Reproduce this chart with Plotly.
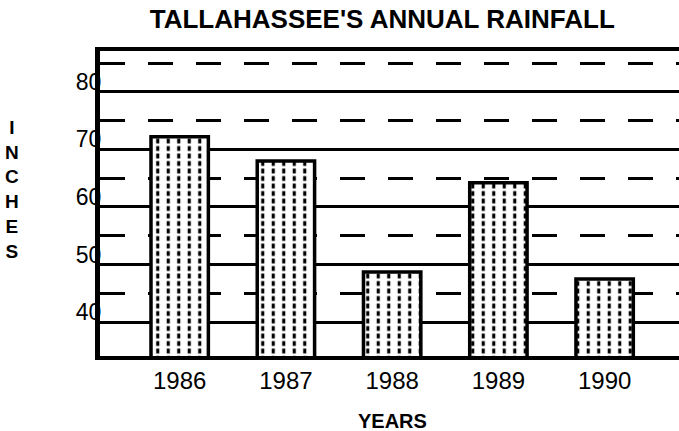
import plotly.graph_objects as go

# Annual rainfall totals (inches)
years = ["1986", "1987", "1988", "1989", "1990"]
rainfall = [72.2, 68.0, 48.7, 64.2, 47.5]

# Axis labelling: solid rules every 10 in, dashed rules halfway between
y_ticks = [40, 50, 60, 70, 80]
y_tick_text = ["40", "50", "60", "70", "80"]
y_half_ticks = [45, 55, 65, 75, 85]

FONT = "Liberation Sans, Arial, Helvetica, sans-serif"

fig = go.Figure()

# Base bars: white fill with thin vertical black strokes
fig.add_trace(go.Bar(
    x=years, y=rainfall, width=0.54,
    marker=dict(
        color="white",
        line=dict(width=0),
        pattern=dict(shape="|", fgcolor="black", bgcolor="white",
                     size=10.5, solidity=0.3, fgopacity=1),
    ),
    hoverinfo="skip", showlegend=False,
))

# Same bars again: white horizontal stripes break the strokes into dots,
# plus the heavy black outline
fig.add_trace(go.Bar(
    x=years, y=rainfall, width=0.54,
    marker=dict(
        color="rgba(0,0,0,0)",
        line=dict(color="black", width=3.5),
        pattern=dict(shape="-", fgcolor="white", bgcolor="rgba(0,0,0,0)",
                     size=7.5, solidity=0.36, fgopacity=1),
    ),
    showlegend=False,
))

fig.update_layout(
    width=679, height=431,
    margin=dict(l=100, r=0, t=51, b=75),
    paper_bgcolor="white", plot_bgcolor="white",
    barmode="overlay",
    font=dict(family=FONT, color="black"),
    title=dict(
        text="<b>TALLAHASSEE'S ANNUAL RAINFALL</b>",
        x=0.563, xanchor="center", y=0.955, yanchor="middle",
        font=dict(size=26, family=FONT, color="black"),
    ),
    xaxis=dict(
        type="category", range=[-0.75, 4.7],
        showgrid=False, ticks="",
        showline=True, linecolor="black", linewidth=4, mirror=True,
        tickfont=dict(size=24, family=FONT, color="black"),
        ticklabelstandoff=0,
    ),
    yaxis=dict(
        range=[34.1, 87.1],
        tickvals=y_ticks, ticktext=y_tick_text,
        ticks="", ticklabelshift=-10, ticklabelstandoff=-11,
        tickfont=dict(size=23, family=FONT, color="black"),
        showgrid=True, gridcolor="black", gridwidth=3,
        zeroline=False,
        showline=True, linecolor="black", linewidth=5,
        minor=dict(tickmode="array", tickvals=y_half_ticks, showgrid=True,
                   gridcolor="black", gridwidth=3, griddash="25px,23px",
                   ticks=""),
    ),
)

# Axis titles
fig.add_annotation(
    text="<b>YEARS</b>", xref="paper", yref="paper",
    x=0.505, y=-0.212, xanchor="center", yanchor="middle", showarrow=False,
    font=dict(size=20, family=FONT, color="black"),
)
fig.add_annotation(
    text="<b>I<br>N<br>C<br>H<br>E<br>S</b>", xref="paper", yref="paper",
    x=-0.152, y=0.545, xanchor="center", yanchor="middle", showarrow=False,
    align="center",
    font=dict(size=19, family=FONT, color="black"),
)

fig.write_html("out.html")
